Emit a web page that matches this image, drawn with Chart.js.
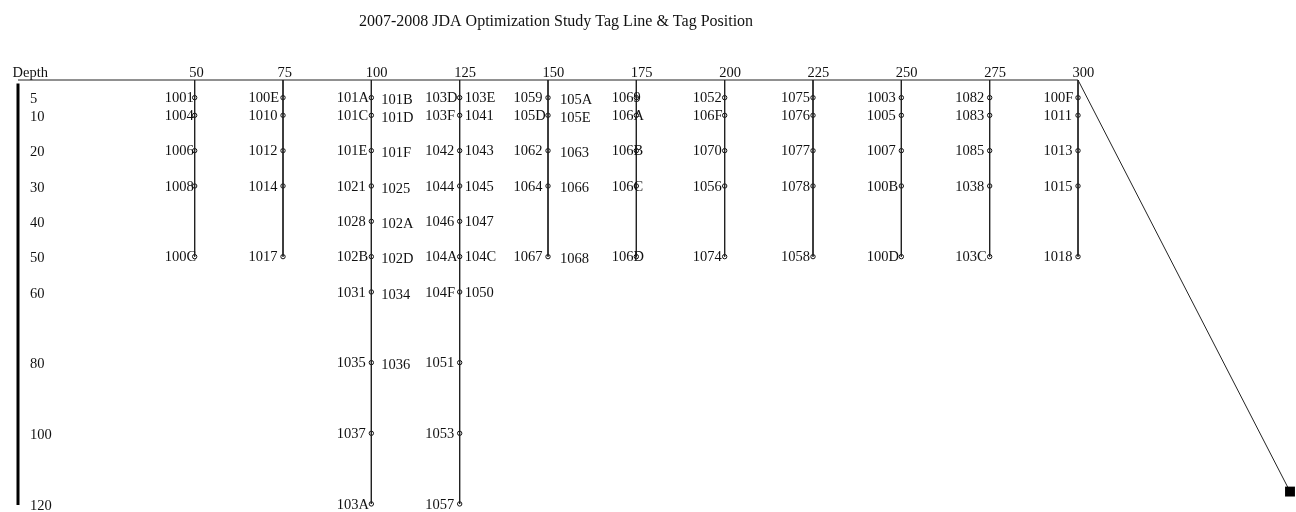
<!DOCTYPE html>
<html>
<head>
<meta charset="utf-8">
<title>2007-2008 JDA Optimization Study Tag Line &amp; Tag Position</title>
<script src="https://cdn.jsdelivr.net/npm/chart.js@4.4.1/dist/chart.umd.min.js"></script>
<style>
  html, body { margin: 0; padding: 0; background: #fff; }
  #wrap { width: 1296px; height: 512px; }
</style>
</head>
<body>
<div id="wrap"><canvas id="tagChart" width="1296" height="512"></canvas></div>
<script>
// --- DATA ---
const TITLE = '2007-2008 JDA Optimization Study Tag Line & Tag Position';

// tag lines along the top line (position) and how deep each one hangs
const lineX = [50, 75, 100, 125, 150, 175, 200, 225, 250, 275, 300];
const lineDepth = [50, 50, 120, 120, 50, 50, 50, 50, 50, 50, 50];

// depths where tags sit
const shallowDepths = [5, 10, 20, 30, 50];
const deepDepths = [5, 10, 20, 30, 40, 50, 60, 80, 100, 120];

// axis ticks
const positionTicks = [0, 50, 75, 100, 125, 150, 175, 200, 225, 250, 275, 300];
const positionLabels = ['Depth', '50', '75', '100', '125', '150', '175', '200', '225', '250', '275', '300'];
const depthTicks = [5, 10, 20, 30, 40, 50, 60, 80, 100, 120];

// tag ids, top to bottom
const tags050 = ['1001', '1004', '1006', '1008', '100C'];
const tags075 = ['100E', '1010', '1012', '1014', '1017'];
const tags100 = ['101A', '101C', '101E', '1021', '1028', '102B', '1031', '1035', '1037', '103A'];
const tags100b = ['101B', '101D', '101F', '1025', '102A', '102D', '1034', '1036'];
const tags125 = ['103D', '103F', '1042', '1044', '1046', '104A', '104F', '1051', '1053', '1057'];
const tags125b = ['103E', '1041', '1043', '1045', '1047', '104C', '1050'];
const tags150 = ['1059', '105D', '1062', '1064', '1067'];
const tags150b = ['105A', '105E', '1063', '1066', '1068'];
const tags175 = ['1069', '106A', '106B', '106C', '106D'];
const tags200 = ['1052', '106F', '1070', '1056', '1074'];
const tags225 = ['1075', '1076', '1077', '1078', '1058'];
const tags250 = ['1003', '1005', '1007', '100B', '100D'];
const tags275 = ['1082', '1083', '1085', '1038', '103C'];
const tags300 = ['100F', '1011', '1013', '1015', '1018'];

// anchor at the end of the slanted line from the 300 mark
const anchorPoint = [360, 116.5];
// the depth bar on the left
const depthBar = [1, 120.3];

// --- STYLE / LAYOUT ---
const INK = '#111';
const LINE = '#222';
const SERIF = '"Liberation Serif", "Times New Roman", serif';
const TAG_FONT = '14.5px ' + SERIF;
const TITLE_FONT = '16px ' + SERIF;
const leftStart = { 50: -30, 175: -24.5, 200: -32, 225: -32 }; // px from line, default below
const LEFT_DEFAULT = -34.5;
const rightStart = { 100: 10, 125: 5, 150: 12 };
const rightDy = { 100: 3, 125: 1, 150: 2.5 };

const leftTags = [tags050, tags075, tags100, tags125, tags150, tags175, tags200, tags225, tags250, tags275, tags300];
const rightTags = { 100: tags100b, 125: tags125b, 150: tags150b };

const tagLines = lineX.map((x, i) => ({
    x,
    bottom: lineDepth[i],
    depths: lineDepth[i] > 50 ? deepDepths : shallowDepths,
    left: leftTags[i],
    right: rightTags[x] || []
}));

// --- DATASETS ---
const datasets = [];

// top line (0..300)
datasets.push({
    data: [{ x: 0, y: 0 }, { x: lineX[lineX.length - 1], y: 0 }],
    borderColor: LINE, borderWidth: 1, pointRadius: 0, showLine: true, clip: false
});

// depth bar
datasets.push({
    data: depthBar.map(d => ({ x: 0, y: d })),
    borderColor: '#000', borderWidth: 3, pointRadius: 0, showLine: true, clip: false
});

// slanted line to the anchor
datasets.push({
    data: [{ x: lineX[lineX.length - 1], y: 0 }, { x: anchorPoint[0], y: anchorPoint[1] }],
    borderColor: LINE, borderWidth: 1, showLine: true, clip: false,
    pointStyle: 'rect', pointRadius: [0, 7], backgroundColor: '#000', pointBorderColor: '#000', pointBorderWidth: 0
});

// the hanging tag lines
tagLines.forEach(line => {
    datasets.push({
        data: [{ x: line.x, y: 0 }, { x: line.x, y: line.bottom }],
        borderColor: LINE, borderWidth: 1, pointRadius: 0, showLine: true, clip: false
    });
});

// tag markers
const markerPoints = [];
tagLines.forEach(line => {
    line.left.forEach((tag, i) => markerPoints.push({ x: line.x, y: line.depths[i] }));
});
datasets.push({
    data: markerPoints,
    showLine: false, pointRadius: 2.2, pointBorderWidth: 1,
    pointBorderColor: '#111', pointBackgroundColor: '#fff', clip: false
});

// --- LABEL PLUGIN ---
const tagLabels = {
    id: 'tagLabels',
    afterDatasetsDraw(chart) {
        const { ctx, scales: { x, y } } = chart;
        ctx.save();
        ctx.fillStyle = INK;
        ctx.font = TAG_FONT;
        ctx.textAlign = 'left';
        ctx.textBaseline = 'middle';
        tagLines.forEach(line => {
            const px = x.getPixelForValue(line.x);
            const lx = px + (leftStart[line.x] ?? LEFT_DEFAULT);
            line.left.forEach((tag, i) => {
                ctx.fillText(tag, lx, y.getPixelForValue(line.depths[i]) + 1);
            });
            line.right.forEach((tag, i) => {
                ctx.fillText(tag, px + rightStart[line.x], y.getPixelForValue(line.depths[i]) + rightDy[line.x]);
            });
        });

        ctx.font = TITLE_FONT;
        ctx.textAlign = 'center';
        ctx.textBaseline = 'alphabetic';
        ctx.fillText(TITLE, 556, 26);
        ctx.restore();
    }
};

// --- CHART ---
new Chart(document.getElementById('tagChart'), {
    type: 'scatter',
    data: { datasets },
    options: {
        responsive: false,
        animation: false,
        devicePixelRatio: 1,
        layout: { autoPadding: false, padding: { top: 50, left: 18, right: 6, bottom: 1 } },
        plugins: { legend: { display: false }, tooltip: { enabled: false } },
        scales: {
            x: {
                type: 'linear', position: 'top', min: 0, max: 360,
                afterBuildTicks: s => { s.ticks = positionTicks.map(v => ({ value: v })); },
                afterFit: s => { s.height = 30; s.paddingLeft = 0; s.paddingRight = 0; },
                grid: { display: false, drawTicks: false },
                border: { display: false },
                ticks: {
                    align: 'start', labelOffset: -5.5, padding: 0, autoSkip: false, maxRotation: 0,
                    color: INK, font: { family: SERIF, size: 14.5, lineHeight: 1 },
                    callback: (v, i) => positionLabels[i]
                }
            },
            y: {
                type: 'linear', position: 'left', reverse: true, min: 0, max: 122,
                afterBuildTicks: s => { s.ticks = depthTicks.map(v => ({ value: v })); },
                afterFit: s => { s.width = 0; s.paddingTop = 0; s.paddingBottom = 0; },
                grid: { display: false, drawTicks: false },
                border: { display: false },
                ticks: {
                    mirror: true, padding: 12, labelOffset: 2, autoSkip: false,
                    color: INK, font: { family: SERIF, size: 14.5, lineHeight: 1 }
                }
            }
        }
    },
    plugins: [tagLabels]
});
</script>
</body>
</html>
